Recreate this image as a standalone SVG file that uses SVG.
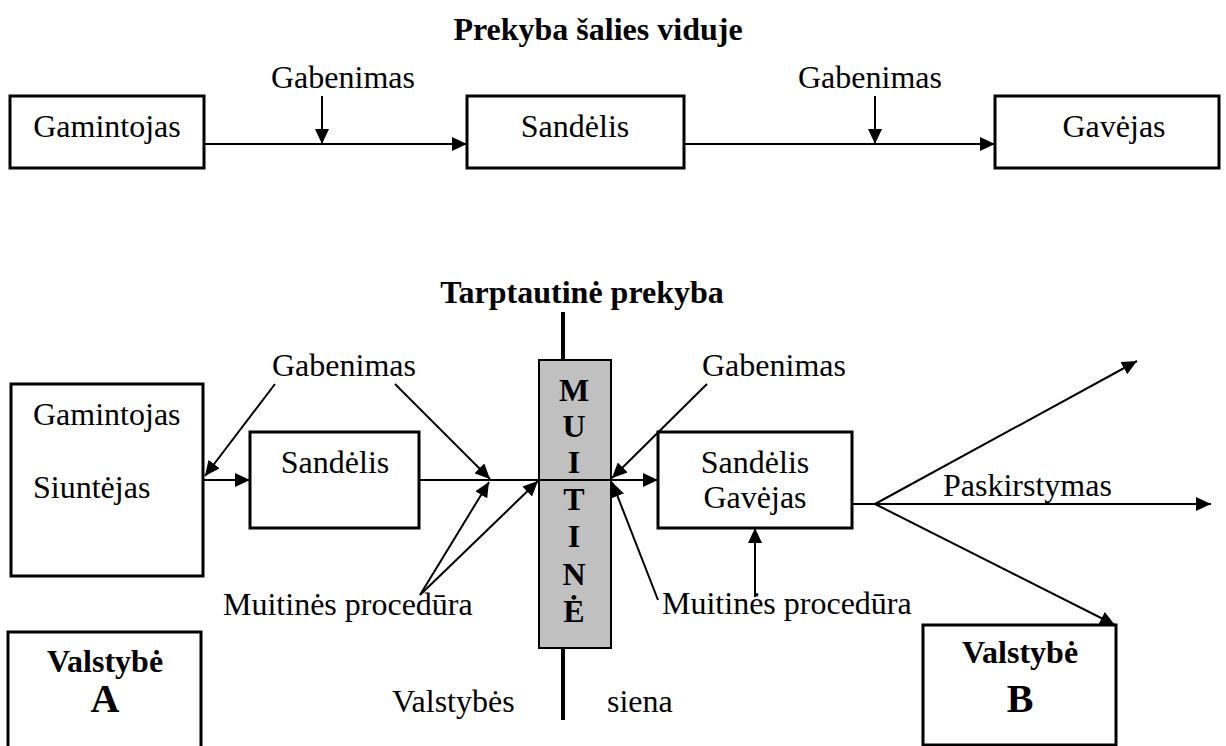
<svg xmlns="http://www.w3.org/2000/svg" width="1226" height="746" viewBox="0 0 1226 746">
<defs>
<style>
text{font-family:"Liberation Serif","Times New Roman",serif;fill:#000}
.t{font-size:32px}
.b{font-size:32px;font-weight:bold}
.big{font-size:40px;font-weight:bold}
.box{fill:#fff;stroke:#000;stroke-width:3}
.ln{stroke:#000;stroke-width:2;fill:none}
.arr{stroke:#000;stroke-width:2;fill:none;marker-end:url(#ah)}
.wall{stroke:#000;stroke-width:4}
</style>
<marker id="ah" markerUnits="userSpaceOnUse" markerWidth="16" markerHeight="14" refX="15" refY="7" orient="auto" viewBox="0 0 16 14">
<path d="M0,0 L15,7 L0,14 z" fill="#000"/>
</marker>
</defs>
<rect width="1226" height="746" fill="#fff"/>

<text class="b" x="598" y="40" text-anchor="middle">Prekyba šalies viduje</text>

<g id="top-gamintojas"><rect class="box" x="10" y="96" width="194" height="72"/><text class="t" x="107" y="137" text-anchor="middle">Gamintojas</text></g>
<g id="top-sandelis"><rect class="box" x="467" y="96" width="217" height="72"/><text class="t" x="575" y="137" text-anchor="middle">Sandėlis</text></g>
<g id="top-gavejas"><rect class="box" x="995" y="96" width="224" height="72"/><text class="t" x="1114" y="137" text-anchor="middle">Gavėjas</text></g>
<g id="top-labels">
<text class="t" x="271" y="88">Gabenimas</text>
<text class="t" x="798" y="88">Gabenimas</text>
</g>

<text class="b" x="582" y="303" text-anchor="middle">Tarptautinė prekyba</text>

<g id="border">
<line class="wall" x1="563" y1="312" x2="563" y2="360"/>
<line class="wall" x1="563" y1="648" x2="563" y2="720"/>
</g>
<g id="muitine">
<rect x="539" y="360" width="72" height="288" fill="#c0c0c0" stroke="#000" stroke-width="2"/>
<text class="b" x="574" y="401" text-anchor="middle">M</text>
<text class="b" x="574" y="437" text-anchor="middle">U</text>
<text class="b" x="574" y="473" text-anchor="middle">I</text>
<text class="b" x="574" y="510" text-anchor="middle">T</text>
<text class="b" x="574" y="547" text-anchor="middle">I</text>
<text class="b" x="574" y="585" text-anchor="middle">N</text>
<text class="b" x="574" y="622" text-anchor="middle">Ė</text>
</g>

<g id="siuntejas"><rect class="box" x="11" y="384" width="192" height="192"/><text class="t" x="33" y="425">Gamintojas</text><text class="t" x="33" y="498">Siuntėjas</text></g>
<g id="sandelis-a"><rect class="box" x="250" y="432" width="169" height="96"/><text class="t" x="335" y="473" text-anchor="middle">Sandėlis</text></g>
<g id="sandelis-gavejas"><rect class="box" x="658" y="432" width="194" height="96"/><text class="t" x="755" y="473" text-anchor="middle">Sandėlis</text><text class="t" x="755" y="508" text-anchor="middle">Gavėjas</text></g>
<g id="valstybe-a"><rect class="box" x="8" y="632" width="193" height="130"/><text class="b" x="105" y="672" text-anchor="middle">Valstybė</text><text class="big" x="105" y="712" text-anchor="middle">A</text></g>
<g id="valstybe-b"><rect class="box" x="923" y="625" width="193" height="120"/><text class="b" x="1020" y="663" text-anchor="middle">Valstybė</text><text class="big" x="1020" y="712" text-anchor="middle">B</text></g>

<g id="labels">
<text class="t" x="272" y="376">Gabenimas</text>
<text class="t" x="702" y="376">Gabenimas</text>
<text class="t" x="223" y="615">Muitinės procedūra</text>
<text class="t" x="662" y="614">Muitinės procedūra</text>
<text class="t" x="943" y="496">Paskirstymas</text>
<text class="t" x="392" y="712">Valstybės</text>
<text class="t" x="607" y="712">siena</text>
</g>

<g id="connectors">
<line class="arr" x1="204" y1="144" x2="467" y2="144"/>
<line class="arr" x1="322" y1="96" x2="322" y2="144"/>
<line class="arr" x1="684" y1="144" x2="995" y2="144"/>
<line class="arr" x1="875" y1="96" x2="875" y2="144"/>

<line class="arr" x1="203" y1="480" x2="250" y2="480"/>
<line class="arr" x1="275" y1="384" x2="205" y2="476"/>
<line class="ln" x1="419" y1="480" x2="539" y2="480"/>
<line class="arr" x1="395" y1="384" x2="490" y2="479"/>
<line class="arr" x1="420" y1="595" x2="489" y2="482"/>
<line class="arr" x1="420" y1="595" x2="538" y2="481"/>
<line class="ln" x1="539" y1="480" x2="611" y2="480"/>
<line class="arr" x1="611" y1="480" x2="658" y2="480"/>
<line class="arr" x1="707" y1="384" x2="612" y2="478"/>
<line class="arr" x1="658" y1="600" x2="612" y2="482"/>
<line class="arr" x1="755" y1="597" x2="755" y2="528"/>

<line class="ln" x1="852" y1="504" x2="875" y2="504"/>
<line class="arr" x1="875" y1="504" x2="1137" y2="361"/>
<line class="arr" x1="875" y1="504" x2="1211" y2="504"/>
<line class="arr" x1="875" y1="504" x2="1115" y2="625"/>
</g>
</svg>
